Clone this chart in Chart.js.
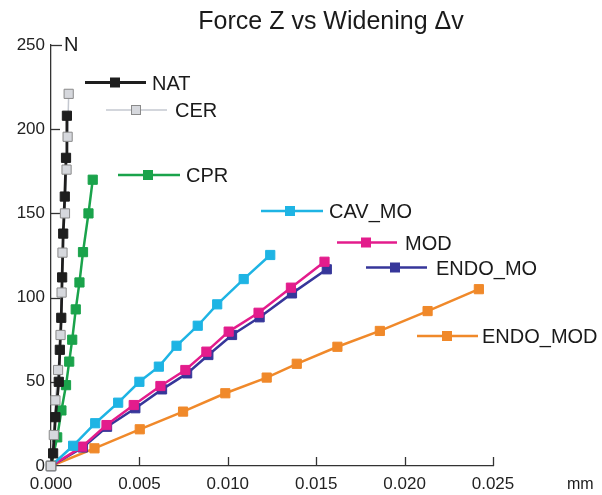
<!DOCTYPE html>
<html><head><meta charset="utf-8">
<script src="https://cdn.jsdelivr.net/npm/chart.js@4.4.1/dist/chart.umd.min.js"></script>
<style>html,body{margin:0;padding:0;background:#fff;}#wrap{width:602px;height:495px;}</style>
</head><body><div id="wrap"><canvas id="c" width="602" height="495"></canvas></div>
<script>
// ---- data ----
const seriesNames = ['NAT','CER','CPR','CAV_MO','MOD','ENDO_MO','ENDO_MOD'];
const natX = [0, 0.00012, 0.00025, 0.00044, 0.0005, 0.00058, 0.00063, 0.00069, 0.00078, 0.00085, 0.0009];
const natY = [0, 7.5, 29, 50, 69, 88, 112, 138, 160, 183, 208];
const cerX = [0, 0.00016, 0.00025, 0.0004, 0.00054, 0.0006, 0.00065, 0.00079, 0.00088, 0.00094, 0.001];
const cerY = [0, 18.4, 39, 57, 77.8, 103, 126.7, 150, 176, 195.5, 221];
const cprX = [0, 0.00035, 0.00059, 0.00085, 0.00103, 0.0012, 0.0014, 0.00161, 0.00181, 0.00212, 0.00236];
const cprY = [0, 17, 33, 48, 62, 75, 93, 109, 127, 150, 170];
const cavX = [0, 0.00125, 0.0025, 0.0038, 0.005, 0.0061, 0.0071, 0.0083, 0.0094, 0.0109, 0.0124];
const cavY = [0, 12, 25.4, 37.6, 50, 59, 71.4, 83.3, 96, 111, 125.3];
const modX = [0, 0.00176, 0.00314, 0.00468, 0.00619, 0.0076, 0.00879, 0.01005, 0.01174, 0.01357, 0.01547];
const modY = [0, 11.5, 24.3, 36.2, 47.5, 57, 67.9, 79.8, 91, 105.9, 121.3];
const endoMoX = [0, 0.0018, 0.00317, 0.00477, 0.00628, 0.0077, 0.0089, 0.01024, 0.0118, 0.01363, 0.0156];
const endoMoY = [0, 11, 23.3, 34.3, 45.5, 55, 65.9, 77.8, 88.3, 102.5, 116.8];
const endoModX = [0, 0.00246, 0.00502, 0.00747, 0.00986, 0.0122, 0.0139, 0.0162, 0.0186, 0.0213, 0.0242];
const endoModY = [0, 10.5, 21.8, 32.3, 43.2, 52.5, 60.7, 70.8, 80.2, 92, 105];
const xTicks = [0, 0.005, 0.010, 0.015, 0.020, 0.025];
const yTicks = [0, 50, 100, 150, 200, 250];
const titleText = 'Force Z vs Widening \u0394v';
const xUnit = 'mm';
const yUnit = 'N';

// ---- styles / layout ----
const seriesXY = [[natX,natY],[cerX,cerY],[cprX,cprY],[cavX,cavY],[modX,modY],[endoMoX,endoMoY],[endoModX,endoModY]];
const styles = [
  {line:'#1e1e1e', fill:'#1e1e1e', border:'#1e1e1e', w:2.8},
  {line:'#c4c8d0', fill:'#d6d8dd', border:'#8a8a8a', w:1.5},
  {line:'#1aa34b', fill:'#1aa34b', border:'#1aa34b', w:2.5},
  {line:'#1eb4e4', fill:'#1eb4e4', border:'#1eb4e4', w:2.5},
  {line:'#e31c8c', fill:'#e31c8c', border:'#e31c8c', w:2.5},
  {line:'#36369a', fill:'#36369a', border:'#36369a', w:2.5},
  {line:'#f0892a', fill:'#f0892a', border:'#f0892a', w:2.5}
];
const legendLayout = [
  {x1:85,  x2:146, mx:115, tx:152, y:82.5},
  {x1:106, x2:167, mx:136, tx:175, y:110},
  {x1:118, x2:180, mx:148, tx:186, y:175},
  {x1:261, x2:323, mx:290, tx:329, y:211},
  {x1:337, x2:397, mx:366, tx:405, y:242.5},
  {x1:366, x2:427, mx:395, tx:436, y:267.5},
  {x1:417, x2:478, mx:447, tx:482, y:336}
];
const FONT = "'Liberation Sans', Arial, Helvetica, sans-serif";

function makeSet(i, opts){
  return Object.assign({
    label: seriesNames[i],
    data: seriesXY[i][0].map((x,j)=>({x:x, y:seriesXY[i][1][j]})),
    borderColor: styles[i].line,
    borderWidth: styles[i].w,
    backgroundColor: styles[i].fill,
    pointBackgroundColor: styles[i].fill,
    pointBorderColor: styles[i].border,
    pointBorderWidth: 1,
    pointStyle:'rect',
    pointRadius:6.5,
    pointHoverRadius:6.5,
    showLine:true,
    tension:0,
    clip:false
  }, opts);
}
const datasets = [];
seriesNames.forEach((n,i)=>{
  if (i===1) {
    // CER: line below NAT, markers above NAT
    datasets.push(makeSet(i, {order: 3, pointRadius:0, pointHoverRadius:0}));
    datasets.push(makeSet(i, {order: 0, showLine:false}));
  } else {
    datasets.push(makeSet(i, {order: i===0 ? 1 : i+2}));
  }
});

const overlay = {
  id:'overlay',
  beforeDatasetsDraw(chart){
    const ctx=chart.ctx, xs=chart.scales.x, ys=chart.scales.y;
    ctx.save();
    ctx.strokeStyle='#333'; ctx.lineWidth=1.3;
    xTicks.forEach(v=>{ if(v===0) return; const px=Math.round(xs.getPixelForValue(v))+0.5; ctx.beginPath(); ctx.moveTo(px, ys.bottom); ctx.lineTo(px, ys.bottom-9); ctx.stroke(); });
    yTicks.forEach(v=>{ if(v===0) return; const py=Math.round(ys.getPixelForValue(v))+0.5; ctx.beginPath(); ctx.moveTo(xs.left, py); ctx.lineTo(xs.left+(v===250?11:9), py); ctx.stroke(); });
    ctx.restore();
  },
  afterDraw(chart){
    const ctx=chart.ctx, xs=chart.scales.x, ys=chart.scales.y;
    ctx.save();
    ctx.fillStyle='#1a1a1a';
    ctx.textBaseline='alphabetic';
    ctx.font='25px '+FONT; ctx.textAlign='center';
    ctx.fillText(titleText, 331, 29);
    ctx.font='20px '+FONT; ctx.textAlign='left';
    ctx.fillText(yUnit, xs.left+13, ys.getPixelForValue(250)+6);
    ctx.font='16px '+FONT;
    ctx.fillText(xUnit, 567, 489);
    ctx.font='20px '+FONT;
    seriesNames.forEach((n,i)=>{
      const L=legendLayout[i], s=styles[i];
      ctx.strokeStyle=s.line; ctx.lineWidth=s.w;
      ctx.beginPath(); ctx.moveTo(L.x1,L.y); ctx.lineTo(L.x2,L.y); ctx.stroke();
      ctx.fillStyle=s.fill; ctx.fillRect(L.mx-4.5,L.y-4.5,9,9);
      ctx.strokeStyle=s.border; ctx.lineWidth=1; ctx.strokeRect(L.mx-4.5,L.y-4.5,9,9);
      ctx.fillStyle='#1a1a1a';
      ctx.fillText(n, L.tx, L.y+7);
    });
    ctx.restore();
  }
};

new Chart(document.getElementById('c'), {
  type:'scatter',
  data:{datasets},
  plugins:[overlay],
  options:{
    responsive:false,
    animation:false,
    events:[],
    layout:{padding:{left:0,right:109,top:45,bottom:0}},
    plugins:{legend:{display:false}, title:{display:false}, tooltip:{enabled:false}},
    scales:{
      x:{
        type:'linear', min:0, max:0.025,
        afterBuildTicks:s=>{ s.ticks = xTicks.map(v=>({value:v})); },
        afterFit:s=>{ s.height = 29; },
        grid:{display:false, drawTicks:false},
        border:{display:true, color:'#333', width:1.3},
        ticks:{padding:8, color:'#222', font:{family:FONT, size:17}, maxRotation:0, autoSkip:false, callback:v=>Number(v).toFixed(3)}
      },
      y:{
        type:'linear', min:0, max:250,
        afterBuildTicks:s=>{ s.ticks = yTicks.map(v=>({value:v})); },
        afterFit:s=>{ s.width = 51; },
        grid:{display:false, drawTicks:false},
        border:{display:true, color:'#333', width:1.3},
        ticks:{padding:6, color:'#222', font:{family:FONT, size:17}, autoSkip:false, callback:v=>String(v)}
      }
    }
  }
});
</script>
</body></html>
